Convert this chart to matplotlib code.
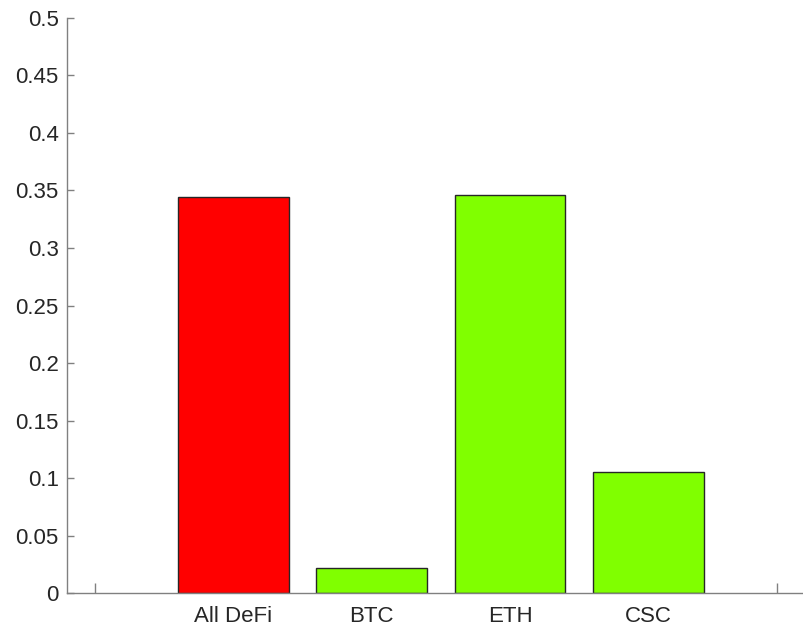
import numpy as np
import matplotlib.pyplot as plt

plt.rcParams['font.family'] = ['Liberation Sans', 'DejaVu Sans']

labels = ['All DeFi', 'BTC', 'ETH', 'CSC']
values = [0.344, 0.0215, 0.3457, 0.105]
colors = ['#ff0000', '#80ff00', '#80ff00', '#80ff00']
yticks = [0, 0.05, 0.1, 0.15, 0.2, 0.25, 0.3, 0.35, 0.4, 0.45, 0.5]
ytick_labels = ['0', '0.05', '0.1', '0.15', '0.2', '0.25', '0.3', '0.35', '0.4', '0.45', '0.5']

fig = plt.figure(figsize=(8.04, 6.29), dpi=100)
ax = fig.add_axes([0.0833, 0.0572, 0.9167, 0.9142])

x = np.arange(1, len(labels) + 1)
ax.bar(x, values, width=0.8, color=colors, edgecolor='#262626', linewidth=1.0, zorder=2)

ax.set_xlim(-0.204, 5.125)
ax.set_ylim(0, 0.5)
ax.set_xticks(x)
ax.set_xticklabels(labels)
ax.set_xticks([0, 4.93], minor=True)
ax.set_yticks(yticks)
ax.set_yticklabels(ytick_labels)

for side in ['top', 'right']:
    ax.spines[side].set_visible(False)
for side in ['left', 'bottom']:
    ax.spines[side].set_color('#808080')
    ax.spines[side].set_linewidth(1.0)
    ax.spines[side].set_zorder(3)

ax.tick_params(axis='x', which='major', length=0, pad=9, labelsize=16, labelcolor='#262626')
ax.tick_params(axis='x', which='minor', direction='in', length=7, color='#808080', width=1)
ax.tick_params(axis='y', direction='in', length=5, color='#808080', width=1,
               pad=6, labelsize=16, labelcolor='#262626')

fig.savefig('out.png', dpi=100)
